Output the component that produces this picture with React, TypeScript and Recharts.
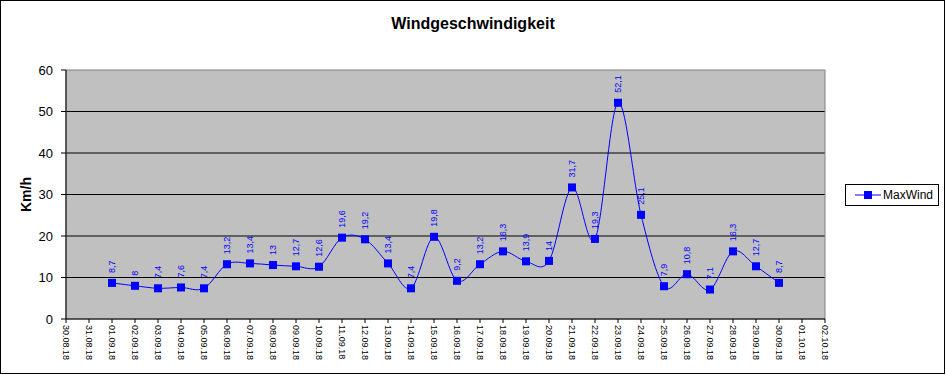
import { LineChart, Line, XAxis, YAxis, CartesianGrid, ReferenceArea, LabelList } from 'recharts';

const AXIS_DAYS = [
  '30.08.18', '31.08.18', '01.09.18', '02.09.18', '03.09.18', '04.09.18', '05.09.18', '06.09.18', '07.09.18',
  '08.09.18', '09.09.18', '10.09.18', '11.09.18', '12.09.18', '13.09.18', '14.09.18', '15.09.18', '16.09.18',
  '17.09.18', '18.09.18', '19.09.18', '20.09.18', '21.09.18', '22.09.18', '23.09.18', '24.09.18', '25.09.18',
  '26.09.18', '27.09.18', '28.09.18', '29.09.18', '30.09.18', '01.10.18', '02.10.18',
];

const DATES = [
  '01.09.18', '02.09.18', '03.09.18', '04.09.18', '05.09.18', '06.09.18', '07.09.18', '08.09.18', '09.09.18',
  '10.09.18', '11.09.18', '12.09.18', '13.09.18', '14.09.18', '15.09.18', '16.09.18', '17.09.18', '18.09.18',
  '19.09.18', '20.09.18', '21.09.18', '22.09.18', '23.09.18', '24.09.18', '25.09.18', '26.09.18', '27.09.18',
  '28.09.18', '29.09.18', '30.09.18',
];

const MAX_WIND = [
  8.7, 8, 7.4, 7.6, 7.4, 13.2, 13.4, 13, 12.7, 12.6, 19.6, 19.2, 13.4, 7.4, 19.8, 9.2, 13.2, 16.3, 13.9, 14, 31.7,
  19.3, 52.1, 25.1, 7.9, 10.8, 7.1, 16.3, 12.7, 8.7,
];

const Y_TICKS = [0, 10, 20, 30, 40, 50, 60];

const FONT = 'Arial, "Liberation Sans", sans-serif';
const BLUE = '#0000ff';

const data = DATES.map((d, i) => ({ x: AXIS_DAYS.indexOf(d), date: d, value: MAX_WIND[i] }));

// Excel-like smoothing (Catmull-Rom through every point)
function excelSmooth(context: any) {
  let pts: [number, number][] = [];
  return {
    areaStart() {},
    areaEnd() {},
    lineStart() {
      pts = [];
    },
    point(x: number, y: number) {
      pts.push([+x, +y]);
    },
    lineEnd() {
      if (!pts.length) return;
      context.moveTo(pts[0][0], pts[0][1]);
      for (let i = 0; i < pts.length - 1; i++) {
        const p0 = pts[i - 1] ?? pts[i];
        const p1 = pts[i];
        const p2 = pts[i + 1];
        const p3 = pts[i + 2] ?? pts[i + 1];
        context.bezierCurveTo(
          p1[0] + (p2[0] - p0[0]) / 6,
          p1[1] + (p2[1] - p0[1]) / 6,
          p2[0] - (p3[0] - p1[0]) / 6,
          p2[1] - (p3[1] - p1[1]) / 6,
          p2[0],
          p2[1]
        );
      }
    },
  };
}

const XTick = ({ x, y, payload }: any) => (
  <text
    transform={`translate(${x},${y}) rotate(90)`}
    textAnchor="start"
    dominantBaseline="central"
    fontSize={9}
    fontFamily={FONT}
    fill="#000"
  >
    {AXIS_DAYS[payload.value]}
  </text>
);

const SquareDot = ({ cx, cy }: any) => <rect x={cx - 4} y={cy - 4} width={8} height={8} fill={BLUE} />;

const ValueLabel = ({ x, y, value }: any) => (
  <text
    transform={`translate(${x},${y - 10}) rotate(-90)`}
    textAnchor="start"
    dominantBaseline="central"
    fontSize={9}
    fontFamily={FONT}
    fill={BLUE}
  >
    {String(value).replace('.', ',')}
  </text>
);

export default function App() {
  return (
    <div style={{ position: 'relative', width: 946, height: 375, background: '#fff', fontFamily: FONT }}>
      <style>{'body{margin:0}'}</style>
      <div
        style={{
          position: 'absolute',
          left: 0,
          top: 15,
          width: 946,
          textAlign: 'center',
          fontSize: 16,
          fontWeight: 'bold',
        }}
      >
        Windgeschwindigkeit
      </div>
      <LineChart width={946} height={375} data={data} margin={{ top: 70, right: 121, left: 0, bottom: 0 }}>
        <CartesianGrid
          vertical={false}
          horizontalValues={[10, 20, 30, 40, 50]}
          stroke="#000"
          fill="#c0c0c0"
          fillOpacity={1}
        />
        <ReferenceArea x1={0} x2={33} y1={0} y2={60} fill="none" stroke="#808080" strokeWidth={1} />
        <XAxis
          type="number"
          dataKey="x"
          domain={[0, 33]}
          ticks={AXIS_DAYS.map((_, i) => i)}
          interval={0}
          tick={<XTick />}
          tickSize={4}
          height={56}
          stroke="#000"
        />
        <YAxis
          domain={[0, 60]}
          ticks={Y_TICKS}
          interval={0}
          width={66}
          tickSize={5}
          tickMargin={8}
          tick={{ fontSize: 13, fill: '#000', fontFamily: FONT }}
          stroke="#000"
          label={{
            value: 'Km/h',
            angle: -90,
            position: 'insideLeft',
            offset: 26,
            style: { fontSize: 14, fontWeight: 'bold', fill: '#000', fontFamily: FONT, textAnchor: 'middle' },
          }}
        />
        <Line
          type={excelSmooth as any}
          dataKey="value"
          stroke={BLUE}
          strokeWidth={1}
          dot={<SquareDot />}
          activeDot={false}
          isAnimationActive={false}
        >
          <LabelList dataKey="value" content={<ValueLabel />} />
        </Line>
      </LineChart>
      <div
        style={{
          position: 'absolute',
          left: 845,
          top: 184,
          width: 94,
          height: 22,
          boxSizing: 'border-box',
          border: '1px solid #000',
          background: '#fff',
          display: 'flex',
          alignItems: 'center',
          fontSize: 12,
        }}
      >
        <svg width={36} height={20} style={{ marginLeft: 8 }}>
          <line x1={1} y1={10} x2={27} y2={10} stroke={BLUE} strokeWidth={1} />
          <rect x={10} y={6} width={8} height={8} fill={BLUE} />
        </svg>
        <span style={{ marginLeft: -7 }}>MaxWind</span>
      </div>
      <div
        style={{
          position: 'absolute',
          left: 0,
          top: 0,
          width: 945,
          height: 374,
          boxSizing: 'border-box',
          border: '1px solid #000',
          pointerEvents: 'none',
        }}
      />
    </div>
  );
}
